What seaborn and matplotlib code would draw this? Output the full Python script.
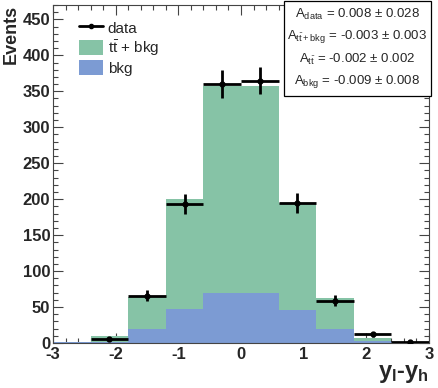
import numpy as np
import matplotlib
matplotlib.use("Agg")
import matplotlib.pyplot as plt
import seaborn as sns
from matplotlib.patches import Patch, Rectangle
from matplotlib.lines import Line2D
from matplotlib.ticker import MultipleLocator

# histogram content
bin_edges = [-3.0, -2.4, -1.8, -1.2, -0.6, 0.0, 0.6, 1.2, 1.8, 2.4, 3.0]
bin_centers = [-2.7, -2.1, -1.5, -0.9, -0.3, 0.3, 0.9, 1.5, 2.1, 2.7]
ttbar_bkg = [1.5, 10, 64, 200, 357, 357, 195, 62, 7, 2]
bkg = [1, 1, 19.5, 47, 70, 69, 45.5, 19.5, 2.8, 1]
data_x = [-2.1, -1.5, -0.9, -0.3, 0.3, 0.9, 1.5, 2.1, 2.7]
data_y = [5, 66, 193, 360, 365, 195, 59, 12, 2]

asym_lines = [
    r"A$_{\mathrm{data}}$ = 0.008 ± 0.028",
    r"A$_{\mathrm{t\bar{t}+bkg}}$ = -0.003 ± 0.003",
    r"A$_{\mathrm{t\bar{t}}}$ = -0.002 ± 0.002",
    r"A$_{\mathrm{bkg}}$ = -0.009 ± 0.008",
]

green = "#86c3a6"
blue = "#7c9bd3"

sns.set_style("ticks")
plt.rcParams["font.family"] = ["Liberation Sans", "DejaVu Sans"]
plt.rcParams["axes.unicode_minus"] = False
plt.rcParams["mathtext.fontset"] = "custom"
plt.rcParams["mathtext.rm"] = "Liberation Sans"
plt.rcParams["mathtext.it"] = "Liberation Sans:italic"
plt.rcParams["mathtext.bf"] = "Liberation Sans:bold"

fig = plt.figure(figsize=(4.39, 3.88), dpi=100)
ax = fig.add_axes([53 / 439, 45 / 388, 376 / 439, 338 / 388])

sns.histplot(x=bin_centers, weights=ttbar_bkg, bins=bin_edges, element="bars",
             fill=True, color=green, alpha=1, linewidth=0, ax=ax)
sns.histplot(x=bin_centers, weights=bkg, bins=bin_edges, element="bars",
             fill=True, color=blue, alpha=1, linewidth=0, ax=ax)

ax.errorbar(data_x, data_y, xerr=0.3, yerr=np.sqrt(data_y), fmt="o",
            color="black", ms=3.5, elinewidth=2, capsize=0, zorder=5)

ax.set_xlim(-3, 3)
ax.set_ylim(0, 470)
ax.xaxis.set_major_locator(MultipleLocator(1))
ax.xaxis.set_minor_locator(MultipleLocator(0.2))
ax.yaxis.set_major_locator(MultipleLocator(50))
ax.yaxis.set_minor_locator(MultipleLocator(10))
ax.tick_params(which="both", direction="in", top=True, right=True,
               color="#444444", width=0.8)
ax.tick_params(which="major", length=7, labelsize=12)
ax.tick_params(axis="x", which="major", pad=3)
ax.tick_params(axis="y", which="major", pad=2)
ax.tick_params(which="minor", length=3.5)
for lab in ax.get_xticklabels() + ax.get_yticklabels():
    lab.set_fontweight("bold")
for sp in ax.spines.values():
    sp.set_color("#444444")
    sp.set_linewidth(0.8)

ax.set_ylabel("Events", loc="top", fontsize=13, fontweight="bold")
ax.yaxis.set_label_coords(-0.088, 1.0)
ax.set_xlabel(r"$\mathbf{y_{l}}$-$\mathbf{y_{h}}$", loc="right",
              fontsize=17, fontweight="bold", labelpad=0)

handles = [
    Line2D([], [], color="black", marker="o", ms=3, lw=2),
    Patch(facecolor=green, edgecolor="none"),
    Patch(facecolor=blue, edgecolor="none"),
]
labels = ["data", r"$\mathrm{t\bar{t}}$ + bkg", "bkg"]
ax.legend(handles, labels, loc="upper left", bbox_to_anchor=(0.068, 0.955),
          frameon=False, fontsize=11, handlelength=1.6, handleheight=1.1,
          handletextpad=0.3, labelspacing=0.15, borderpad=0, borderaxespad=0)

# asymmetry box
box = Rectangle((284 / 439, (388 - 96) / 388), 147 / 439, 95 / 388,
                transform=fig.transFigure, facecolor="white",
                edgecolor="black", linewidth=0.9, zorder=10)
fig.add_artist(box)
for i, line in enumerate(asym_lines):
    fig.text(357 / 439, (388 - 14 - 22.5 * i) / 388, line, ha="center",
             va="center", fontsize=9.5, zorder=11)

fig.savefig("out.png", dpi=100)
